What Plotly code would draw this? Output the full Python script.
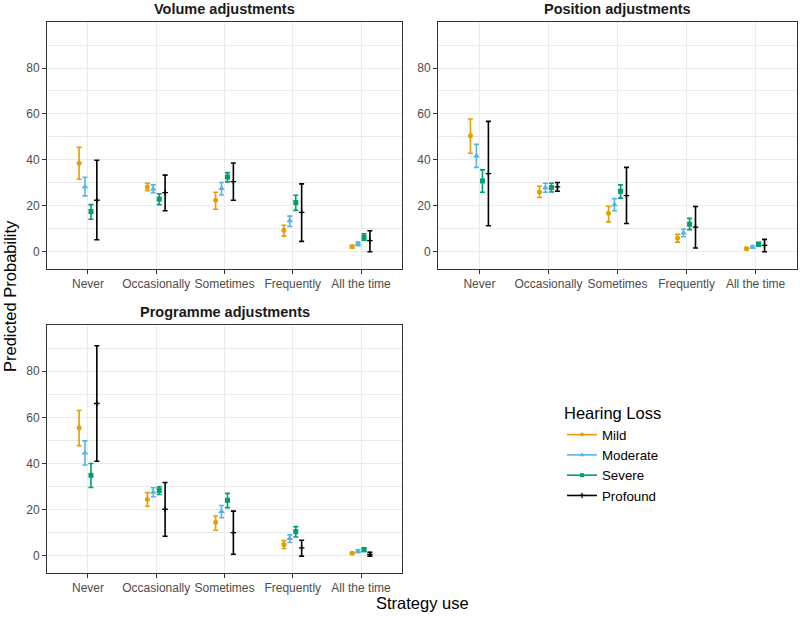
import plotly.graph_objects as go

categories = ["Never", "Occasionally", "Sometimes", "Frequently", "All the time"]
groups = ["Mild", "Moderate", "Severe", "Profound"]
panel_titles = ["Volume adjustments", "Position adjustments", "Programme adjustments"]

# Volume adjustments: estimate, lower CI, upper CI (per hearing loss group)
vol_est = {"Mild": [38.6, 28.3, 22.5, 9.4, 2.3],
           "Moderate": [28.4, 27.4, 27.6, 13.6, 3.6],
           "Severe": [17.6, 23.0, 32.6, 21.5, 6.4],
           "Profound": [22.5, 25.8, 30.6, 17.2, 4.9]}
vol_lo = {"Mild": [31.6, 26.7, 18.6, 6.9, 1.6],
          "Moderate": [24.4, 25.8, 24.8, 11.1, 2.7],
          "Severe": [14.2, 20.6, 30.5, 18.1, 5.1],
          "Profound": [5.3, 17.9, 22.5, 4.6, 0.1]}
vol_hi = {"Mild": [45.5, 29.9, 26.0, 11.6, 2.9],
          "Moderate": [32.5, 29.2, 30.2, 15.6, 4.3],
          "Severe": [20.6, 25.3, 34.5, 24.7, 7.9],
          "Profound": [39.9, 33.4, 38.7, 29.6, 9.2]}

# Position adjustments
pos_est = {"Mild": [50.5, 26.1, 16.8, 6.1, 1.4],
           "Moderate": [41.7, 27.9, 20.5, 8.2, 2.2],
           "Severe": [30.9, 28.0, 26.4, 12.1, 3.3],
           "Profound": [34.1, 28.3, 24.5, 10.8, 2.9]}
pos_lo = {"Mild": [42.9, 23.7, 13.1, 4.3, 1.0],
          "Moderate": [36.8, 26.0, 17.9, 6.6, 1.6],
          "Severe": [26.0, 26.1, 23.4, 9.7, 2.5],
          "Profound": [11.4, 26.4, 12.4, 1.7, 0.1]}
pos_hi = {"Mild": [57.8, 28.6, 19.9, 7.7, 1.9],
          "Moderate": [46.8, 29.9, 23.2, 10.0, 2.7],
          "Severe": [35.7, 29.9, 29.2, 14.6, 4.2],
          "Profound": [56.8, 30.2, 36.8, 19.8, 5.5]}

# Programme adjustments
prog_est = {"Mild": [55.5, 24.5, 14.6, 4.9, 1.2],
            "Moderate": [44.6, 27.6, 19.2, 7.5, 2.0],
            "Severe": [34.9, 28.3, 24.1, 10.5, 2.7],
            "Profound": [66.0, 20.2, 10.1, 3.5, 0.7]}
prog_lo = {"Mild": [47.7, 21.5, 11.1, 3.2, 0.7],
           "Moderate": [39.4, 25.6, 16.5, 5.8, 1.4],
           "Severe": [29.6, 26.6, 20.9, 8.2, 1.9],
           "Profound": [41.0, 8.5, 0.7, -0.1, -0.1]}
prog_hi = {"Mild": [63.0, 27.4, 17.3, 6.6, 1.6],
           "Moderate": [49.8, 29.5, 21.8, 9.1, 2.6],
           "Severe": [40.0, 29.9, 27.1, 12.7, 3.5],
           "Profound": [91.0, 31.8, 19.4, 6.8, 1.6]}

y_ticks = [0, 20, 40, 60, 80]

colors = {"Mild": "#E69F00", "Moderate": "#56B4E9", "Severe": "#009E73", "Profound": "#000000"}
symbols = {"Mild": "circle", "Moderate": "triangle-up", "Severe": "square", "Profound": "cross-thin"}
msize = {"Mild": 5, "Moderate": 6, "Severe": 5, "Profound": 4}
offsets = {"Mild": -0.13, "Moderate": -0.044, "Severe": 0.044, "Profound": 0.13}

panels = [(vol_est, vol_lo, vol_hi), (pos_est, pos_lo, pos_hi), (prog_est, prog_lo, prog_hi)]

W, H = 800, 617
# panel pixel boxes: (left, right, top, bottom)
boxes = [(47, 402, 22, 269), (438, 797, 22, 269), (47, 402, 325, 573)]

fig = go.Figure()
for i, (est, lo, hi) in enumerate(panels):
    xa = "x" if i == 0 else f"x{i+1}"
    ya = "y" if i == 0 else f"y{i+1}"
    for g in groups:
        xs = [k + 1 + offsets[g] for k in range(len(categories))]
        fig.add_trace(go.Scatter(
            x=xs, y=est[g], xaxis=xa, yaxis=ya, mode="markers",
            name=g, showlegend=False, legendgroup=g,
            marker=dict(color=colors[g], symbol=symbols[g], size=msize[g],
                        line=dict(color=colors[g], width=1.3 if g == "Profound" else 0)),
            error_y=dict(type="data", symmetric=False,
                         array=[h - e for h, e in zip(hi[g], est[g])],
                         arrayminus=[e - l for e, l in zip(est[g], lo[g])],
                         color=colors[g], thickness=1.6, width=2.5),
            hovertemplate=g + ": %{y:.1f}<extra></extra>",
        ))

# legend entries
for g in groups:
    fig.add_trace(go.Scatter(
        x=[None], y=[None], mode="lines+markers", name=g, legendgroup=g,
        line=dict(color=colors[g], width=1.6),
        marker=dict(color=colors[g], symbol=symbols[g], size=max(msize[g] - 1, 4),
                    line=dict(color=colors[g], width=1.2 if g == "Profound" else 0)),
    ))

axis_common = dict(showline=True, mirror=True, linecolor="#333333", linewidth=1,
                   ticks="outside", ticklen=4, tickcolor="#333333", tickwidth=1,
                   tickfont=dict(family="Liberation Sans, Arial, sans-serif", size=12, color="#4D4D4D"),
                   gridcolor="#EBEBEB", gridwidth=1, zeroline=False)

annotations = []
for i, (l, r, t, b) in enumerate(boxes):
    sfx = "" if i == 0 else str(i + 1)
    xd = [l / W, r / W]
    yd = [1 - b / H, 1 - t / H]
    fig.update_layout(**{
        f"xaxis{sfx}": dict(domain=xd, range=[0.4, 5.6], tickvals=[1, 2, 3, 4, 5],
                            ticktext=categories, anchor=f"y{sfx}", **axis_common),
        f"yaxis{sfx}": dict(domain=yd, range=[-7.4, 100], tickvals=y_ticks,
                            anchor=f"x{sfx}",
                            minor=dict(tickvals=[10, 30, 50, 70, 90], showgrid=True,
                                       gridcolor="#EBEBEB", gridwidth=0.6, ticks=""),
                            **axis_common),
    })
    annotations.append(dict(text="<b>" + panel_titles[i] + "</b>", x=(l + r) / 2 / W,
                            y=1 - (t - 13) / H, xref="paper", yref="paper",
                            showarrow=False, xanchor="center", yanchor="middle",
                            font=dict(family="Liberation Sans, Arial, sans-serif", size=14.5, color="#1A1A1A")))

annotations.append(dict(text="Predicted Probability", x=10 / W, y=1 - 296 / H, xref="paper", yref="paper",
                        showarrow=False, textangle=-90, xanchor="center", yanchor="middle",
                        font=dict(family="Liberation Sans, Arial, sans-serif", size=16.5, color="#000000")))
annotations.append(dict(text="Strategy use", x=422 / W, y=1 - 603 / H, xref="paper", yref="paper",
                        showarrow=False, xanchor="center", yanchor="middle",
                        font=dict(family="Liberation Sans, Arial, sans-serif", size=16.5, color="#000000")))

fig.update_layout(
    width=W, height=H, margin=dict(l=0, r=0, t=0, b=0),
    plot_bgcolor="white", paper_bgcolor="white",
    annotations=annotations,
    legend=dict(x=562 / W, y=1 - 398 / H, xanchor="left", yanchor="top",
                title=dict(text="Hearing Loss", font=dict(family="Liberation Sans, Arial, sans-serif", size=16.5, color="#000000")),
                font=dict(family="Liberation Sans, Arial, sans-serif", size=13.3, color="#000000"),
                itemwidth=30, tracegroupgap=0, bgcolor="rgba(0,0,0,0)"),
)

fig.write_html("out.html")
